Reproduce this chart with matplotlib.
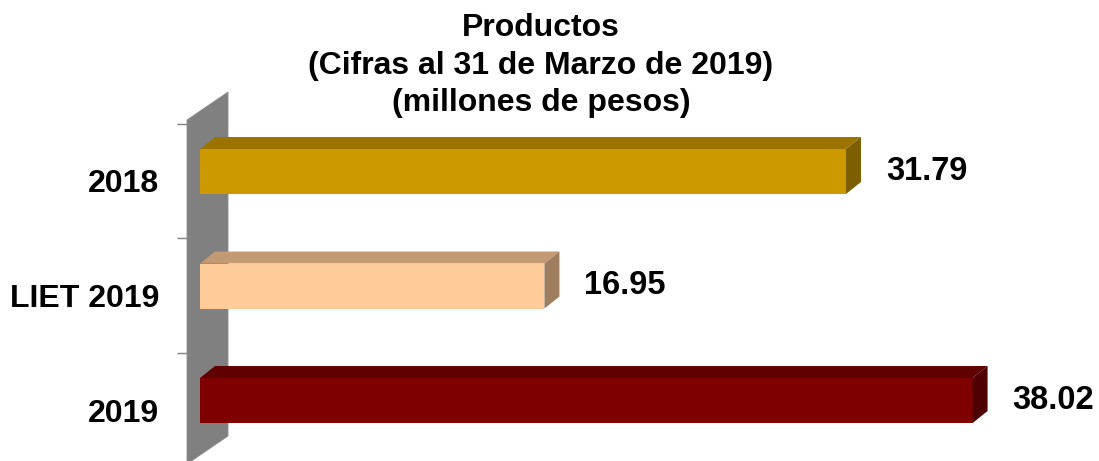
import matplotlib
matplotlib.use("Agg")
import matplotlib.pyplot as plt
from matplotlib.patches import Polygon
import numpy as np

categories = ["2019", "LIET 2019", "2018"]
values = [38.02, 16.95, 31.79]
value_labels = ["38.02", "16.95", "31.79"]
front_colors = ["#7F0000", "#FFCC99", "#CC9900"]
title_lines = ["Productos", "(Cifras al 31 de Marzo de 2019)", "(millones de pesos)"]

plt.rcParams['font.family'] = ['Liberation Sans', 'DejaVu Sans']
plt.rcParams['font.weight'] = 'bold'

W, H = 1099, 461
fig = plt.figure(figsize=(W / 100, H / 100), dpi=100)

# axes geometry (pixels)
px_per_x = 20.32
px_per_y = 114.5
x0_px = 200
ax_left_px = 187
xmin = -(x0_px - ax_left_px) / px_per_x
xmax = (W - x0_px) / px_per_x
top_px = 181 - 0.5 * px_per_y
bot_px = 410 + 0.5 * px_per_y
ax = fig.add_axes([ax_left_px / W, (H - bot_px) / H, (W - ax_left_px) / W, (bot_px - top_px) / H])
ax.set_xlim(xmin, xmax)
ax.set_ylim(-0.5, 2.5)

# 3D styling parameters
dx = 15 / px_per_x
dy = 12 / px_per_y
shift = 9.5 / px_per_y
bh = 45 / px_per_y


def shade(c, f):
    r, g, b = matplotlib.colors.to_rgb(c)
    return (r * f, g * f, b * f)

# gray wall
wl = xmin
wr = (228 - x0_px) / px_per_x
w_tl = 2 + (181 - 120) / px_per_y
w_tr = 2 + (181 - 92) / px_per_y
w_br = -(436 - 410) / px_per_y
w_bl = w_br - 28 / px_per_y
wall = Polygon([(wl, w_bl), (wl, w_tl), (wr, w_tr), (wr, w_br)], closed=True,
               facecolor="#808080", edgecolor="#8c8c8c", lw=0.6, clip_on=False, zorder=1)
ax.add_patch(wall)

ypos = np.arange(len(categories))
ax.barh(ypos + shift, values, height=bh, left=0, color=front_colors,
        edgecolor='none', zorder=3)
for y, v, c, lab in zip(ypos, values, front_colors, value_labels):
    yb = y + shift - bh / 2
    yt = y + shift + bh / 2
    top = Polygon([(0, yt), (v, yt), (v + dx, yt + dy), (dx, yt + dy)], closed=True,
                  facecolor=shade(c, 0.76), edgecolor='none', zorder=3, clip_on=False)
    side = Polygon([(v, yb), (v, yt), (v + dx, yt + dy), (v + dx, yb + dy)], closed=True,
                   facecolor=shade(c, 0.62), edgecolor='none', zorder=3, clip_on=False)
    ax.add_patch(top)
    ax.add_patch(side)
    ax.text(v + 40 / px_per_x, y + shift, lab, ha='left', va='center',
            fontsize=23.5, fontweight='bold', color='black', zorder=4)

# ticks
for s in ax.spines.values():
    s.set_visible(False)
ax.xaxis.set_visible(False)
ax.set_yticks([-0.5, 0.5, 1.5, 2.5])
ax.set_yticklabels([])
ax.tick_params(axis='y', which='major', length=7.5, color='#808080', width=1)
ax.set_yticks(ypos, minor=True)
ax.set_yticklabels(categories, minor=True, fontsize=23, fontweight='bold')
ax.tick_params(axis='y', which='minor', length=0, pad=20)

title_y = [28, 66, 103]
for t, ty in zip(title_lines, title_y):
    fig.text(541 / W, 1 - ty / H, t, ha='center', va='center', fontsize=23,
             fontweight='bold', color='black')

fig.savefig("out.png", dpi=100, facecolor='white')
